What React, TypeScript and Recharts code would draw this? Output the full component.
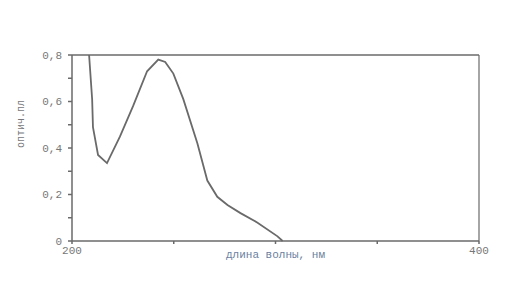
import React from 'react'
import {
  LineChart, Line, XAxis, YAxis, ReferenceLine
} from 'recharts';

// absorption spectrum
const wavelengths = [208.4, 209.9, 210.3, 212.8, 217.2, 223.6, 230, 236.9, 242.4, 245.8, 249.8, 254.7, 261.6, 266.5, 271.4, 276.4, 282.8, 291, 301, 303.5];
const absorbance = [0.8, 0.61, 0.49, 0.37, 0.335, 0.45, 0.58, 0.73, 0.78, 0.77, 0.72, 0.61, 0.42, 0.26, 0.19, 0.155, 0.12, 0.08, 0.02, 0];

const xTicks = [200, 250, 300, 350, 400];
const xLabelled = [200, 400];
const yTicks = [0, 0.1, 0.2, 0.3, 0.4, 0.5, 0.6, 0.7, 0.8];
const yLabelled = [0, 0.2, 0.4, 0.6, 0.8];

const data = wavelengths.map((wl, i) => ({ wl, a: absorbance[i] }));

const ink = '#6a6a6a';
const font = '"Liberation Mono", monospace';

const fmtY = (v: number) => {
  const hit = yLabelled.find((t) => Math.abs(t - v) < 1e-6);
  if (hit === undefined) return '';
  return hit === 0 ? '0' : hit.toFixed(1).replace('.', ',');
};

const App = () => {
  return (
    <div style={{ width: 503, height: 268, background: '#fff' }}>
      <LineChart width={503} height={268} data={data}
        margin={{ top: 47, right: 22, bottom: 15, left: 24 }}>
        <XAxis dataKey="wl" type="number" domain={[200, 400]} ticks={xTicks}
          tickFormatter={(v: number) => (xLabelled.includes(v) ? String(v) : '')}
          stroke={ink} strokeWidth={1.5} tickSize={3} tickMargin={2} height={20}
          tick={{ fill: '#777', fontSize: 11, fontFamily: font }}
          label={{ value: 'длина волны, нм', position: 'insideBottom', offset: 3, fill: '#6b7fa0', fontSize: 11, fontFamily: font }} />
        <YAxis yAxisId="l" domain={[0, 0.8]} ticks={yTicks} tickFormatter={fmtY}
          stroke={ink} strokeWidth={1.5} tickSize={4} tickMargin={6} width={40}
          tick={{ fill: '#777', fontSize: 11, fontFamily: font }}
          label={{ value: 'оптич.пл', angle: -90, position: 'insideLeft', offset: -12, fill: '#777', fontSize: 10, fontFamily: font }} />
        <YAxis yAxisId="r" orientation="right" domain={[0, 0.8]} ticks={yTicks}
          tickFormatter={() => ''} stroke={ink} strokeWidth={1.2} tickSize={4} width={10} />
        <ReferenceLine yAxisId="l" y={0.8} stroke={ink} strokeWidth={1.5} />
        <Line yAxisId="l" dataKey="a" type="linear" stroke={ink} strokeWidth={1.8}
          dot={false} isAnimationActive={false} />
      </LineChart>
    </div>
  )
}

export default App
